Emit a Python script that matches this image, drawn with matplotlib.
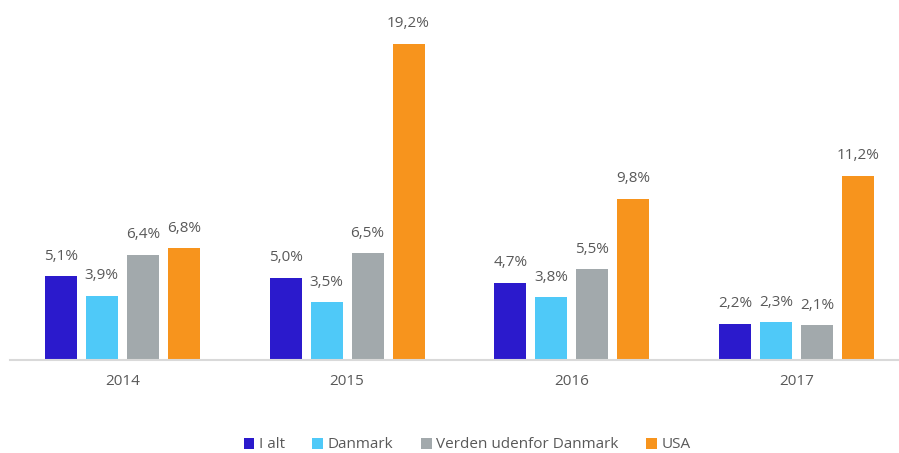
import matplotlib
matplotlib.use("Agg")
import matplotlib.pyplot as plt
from matplotlib.patches import Patch
import numpy as np

years = ["2014", "2015", "2016", "2017"]
series_names = ["I alt", "Danmark", "Verden udenfor Danmark", "USA"]
i_alt = [5.1, 5.0, 4.7, 2.2]
danmark = [3.9, 3.5, 3.8, 2.3]
verden = [6.4, 6.5, 5.5, 2.1]
usa = [6.8, 19.2, 9.8, 11.2]
colors = ["#2B1ACC", "#4FC9F8", "#A2A9AC", "#F7941D"]

plt.rcParams['font.family'] = ['Open Sans', 'DejaVu Sans']

fig = plt.figure(figsize=(8.99, 4.53), dpi=100)
W, H = 899, 453
ax = fig.add_axes([10 / W, (H - 360) / H, 889 / W, 350 / H])

px_per_cat = 224.7
bar_w = 32 / px_per_cat
step = 41 / px_per_cat
x = np.arange(len(years))
data = [i_alt, danmark, verden, usa]
for k, (vals, c) in enumerate(zip(data, colors)):
    off = (k - 1.5) * step
    bars = ax.bar(x + off, vals, width=bar_w, color=c, zorder=2)
    for b, v in zip(bars, vals):
        ax.annotate(f"{v:.1f}%".replace(".", ","),
                    (b.get_x() + b.get_width() / 2, b.get_height()),
                    xytext=(0, 9), textcoords="offset points",
                    ha="center", va="bottom", fontsize=11, color="#595959")

ax.set_xlim(-0.5, -0.5 + 889 / px_per_cat)
ax.set_ylim(0, 350 / 16.46)
ax.set_xticks(x)
ax.set_xticklabels(years, fontsize=11, color="#595959")
ax.tick_params(axis='x', length=0, pad=10)
ax.set_yticks([])
for s in ["top", "right", "left"]:
    ax.spines[s].set_visible(False)
ax.spines["bottom"].set_color("#D9D9D9")
ax.spines["bottom"].set_linewidth(1.5)

handles = [Patch(facecolor=c, label=n) for c, n in zip(colors, series_names)]
fig.legend(handles=handles, loc="center", bbox_to_anchor=(467 / W, (H - 445) / H),
           ncol=4, frameon=False, fontsize=11, handlelength=0.7, handleheight=0.7,
           handletextpad=0.3, columnspacing=1.8, labelcolor="#595959")

fig.savefig("out.png", dpi=100)
